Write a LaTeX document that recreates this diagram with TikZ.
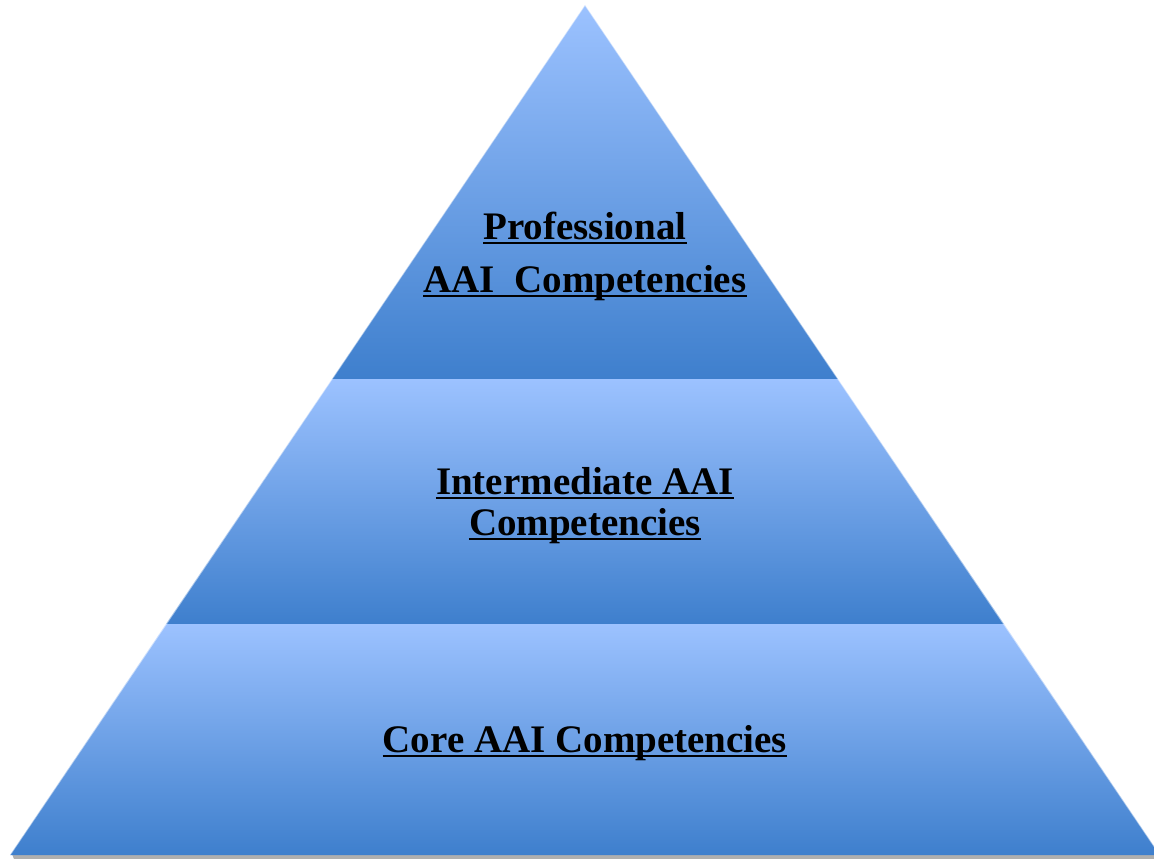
\documentclass[tikz,border=0pt]{standalone}
\usepackage{fontspec}
\setmainfont{Liberation Serif}
\definecolor{lightb}{RGB}{156,194,255}
\definecolor{darkb}{RGB}{62,127,205}
\definecolor{shadowg}{RGB}{175,175,175}
\tikzset{
  band/.style={top color=lightb, bottom color=darkb, draw=none},
  lbl/.style={inner sep=0pt, anchor=base, font=\fontsize{39}{47}\selectfont\bfseries},
  ul/.style={line width=2.8pt}
}
\begin{document}
\begin{tikzpicture}[x=1pt,y=-1pt]
\useasboundingbox (0,0) rectangle (1154,859);
% shadow under the base
\fill[shadowg] (12,854) -- (1154,854) -- (1154,859) -- (14,859) -- cycle;
% bands
\path[band] (585,5) -- (838,379) -- (332,379) -- cycle;
\path[band] (332,379) -- (838,379) -- (1004,624) -- (166,624) -- cycle;
\path[band] (166,624) -- (1004,624) -- (1160,855) -- (10,855) -- cycle;
% soft edge glow
\draw[white, opacity=0.5, line width=1.2pt] (10,855) -- (585,5) -- (1160,855);
% labels
\node[lbl] (p1) at (585,239) {Professional};
\node[lbl] (p2) at (585,292) {AAI\ \ Competencies};
\node[lbl] (m1) at (585,494) {Intermediate AAI};
\node[lbl] (m2) at (585,535) {Competencies};
\node[lbl] (c1) at (585,752) {Core AAI Competencies};
\foreach \n in {p1,p2,m1,m2,c1}
  \draw[ul] ([yshift=-4pt]\n.base west) -- ([yshift=-4pt]\n.base east);
\end{tikzpicture}
\end{document}
